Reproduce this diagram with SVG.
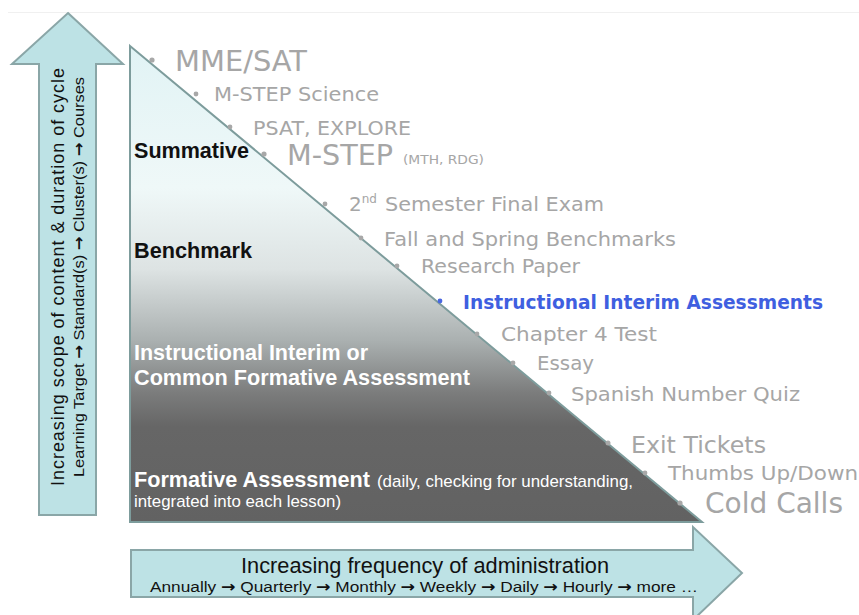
<svg xmlns="http://www.w3.org/2000/svg" width="859" height="615" viewBox="0 0 859 615">
<defs>
<linearGradient id="tri" x1="0" y1="45" x2="0" y2="522" gradientUnits="userSpaceOnUse">
<stop offset="0" stop-color="#e1f3f5"/>
<stop offset="0.3" stop-color="#eff8f8"/>
<stop offset="0.47" stop-color="#dde3e3"/>
<stop offset="0.62" stop-color="#aab0b0"/>
<stop offset="0.73" stop-color="#7b7c7c"/>
<stop offset="0.8" stop-color="#666666"/>
<stop offset="1" stop-color="#626262"/>
</linearGradient>
<style>
.arr{fill:#bde2e5;stroke:#8aa6a7;stroke-width:2}
.lbl{font-family:"Liberation Sans",Arial,sans-serif;font-weight:bold;font-size:21.5px}
.blk{fill:#111}
.wht{fill:#ffffff}
.small{font-family:"Liberation Sans",Arial,sans-serif;font-size:17px;fill:#ffffff}
.item{font-family:"DejaVu Sans",Verdana,sans-serif;fill:#a6a6a6}
.dot{fill:#a8a8a8}
.ax{font-family:"Liberation Sans",Arial,sans-serif;fill:#111}
.ar{font-family:"DejaVu Sans",sans-serif;font-weight:bold}
</style>
</defs>
<rect width="859" height="615" fill="#ffffff"/>
<line x1="8" y1="12.5" x2="859" y2="12.5" stroke="#f0f0f0" stroke-width="1"/>

<g id="scope-arrow">
<polygon class="arr" points="68,13 123,64 96,64 96,515 39,515 39,64 12,64"/>
<text class="ax" font-size="18" transform="translate(64,486) rotate(-90)" textLength="418" lengthAdjust="spacing">Increasing scope of content &amp; duration of cycle</text>
<text class="ax" font-size="15.5" transform="translate(84,477) rotate(-90)" textLength="400" lengthAdjust="spacingAndGlyphs">Learning Target <tspan class="ar">→</tspan> Standard(s) <tspan class="ar">→</tspan> Cluster(s) <tspan class="ar">→</tspan> Courses</text>
</g>

<g id="pyramid">
<polygon points="130,46 702,522 130,522" fill="url(#tri)" stroke="#7d9c9c" stroke-width="2"/>
<text class="lbl blk" x="134" y="158" textLength="115" lengthAdjust="spacingAndGlyphs">Summative</text>
<text class="lbl blk" x="134" y="258" textLength="118" lengthAdjust="spacingAndGlyphs">Benchmark</text>
<text class="lbl wht" x="134" y="360" textLength="234" lengthAdjust="spacingAndGlyphs">Instructional Interim or</text>
<text class="lbl wht" x="134" y="385" textLength="336" lengthAdjust="spacingAndGlyphs">Common Formative Assessment</text>
<text class="lbl wht" x="134" y="487" textLength="236" lengthAdjust="spacingAndGlyphs">Formative Assessment</text>
<text class="small" x="377" y="487" textLength="256" lengthAdjust="spacingAndGlyphs">(daily, checking for understanding,</text>
<text class="small" x="134" y="507" textLength="207" lengthAdjust="spacingAndGlyphs">integrated into each lesson)</text>
</g>

<g id="examples">
<circle class="dot" cx="152" cy="60" r="2.6"/>
<text class="item" x="175" y="71" font-size="28" textLength="132" lengthAdjust="spacingAndGlyphs">MME/SAT</text>
<circle class="dot" cx="196" cy="94" r="2.4"/>
<text class="item" x="214" y="101" font-size="20" textLength="165" lengthAdjust="spacingAndGlyphs">M-STEP Science</text>
<circle class="dot" cx="230" cy="127" r="2.4"/>
<text class="item" x="253" y="135" font-size="20" textLength="158" lengthAdjust="spacingAndGlyphs">PSAT, EXPLORE</text>
<circle class="dot" cx="264" cy="154" r="2.6"/>
<text class="item" x="287" y="165" font-size="28" textLength="106" lengthAdjust="spacingAndGlyphs">M-STEP</text>
<text class="item" x="403" y="164" font-size="12" textLength="81" lengthAdjust="spacingAndGlyphs">(MTH, RDG)</text>
<circle class="dot" cx="325" cy="204" r="2.4"/>
<text class="item" x="349" y="211" font-size="20">2<tspan font-size="12" dy="-8">nd</tspan></text>
<text class="item" x="385" y="211" font-size="20" textLength="219" lengthAdjust="spacingAndGlyphs">Semester Final Exam</text>
<circle class="dot" cx="361" cy="238" r="2.4"/>
<text class="item" x="384" y="246" font-size="20" textLength="292" lengthAdjust="spacingAndGlyphs">Fall and Spring Benchmarks</text>
<circle class="dot" cx="397" cy="266" r="2.4"/>
<text class="item" x="421" y="273" font-size="20" textLength="159" lengthAdjust="spacingAndGlyphs">Research Paper</text>
<circle cx="440" cy="301" r="2.4" fill="#4a67e0"/>
<text x="463" y="309" font-family="DejaVu Sans,Verdana,sans-serif" font-weight="bold" font-size="20" fill="#3f5fe0" textLength="360" lengthAdjust="spacingAndGlyphs">Instructional Interim Assessments</text>
<circle class="dot" cx="477" cy="334" r="2.4"/>
<text class="item" x="501" y="341" font-size="20" textLength="156" lengthAdjust="spacingAndGlyphs">Chapter 4 Test</text>
<circle class="dot" cx="513" cy="363" r="2.4"/>
<text class="item" x="537" y="370" font-size="20" textLength="57" lengthAdjust="spacingAndGlyphs">Essay</text>
<circle class="dot" cx="549" cy="393" r="2.4"/>
<text class="item" x="571" y="401" font-size="20" textLength="229" lengthAdjust="spacingAndGlyphs">Spanish Number Quiz</text>
<circle class="dot" cx="608" cy="443" r="2.5"/>
<text class="item" x="631" y="453" font-size="23" textLength="135" lengthAdjust="spacingAndGlyphs">Exit Tickets</text>
<circle class="dot" cx="645" cy="473" r="2.4"/>
<text class="item" x="668" y="480" font-size="20" textLength="190" lengthAdjust="spacingAndGlyphs">Thumbs Up/Down</text>
<circle class="dot" cx="680" cy="503" r="2.6"/>
<text class="item" x="705" y="513" font-size="28" textLength="138" lengthAdjust="spacingAndGlyphs">Cold Calls</text>
</g>

<g id="frequency-arrow">
<polygon class="arr" points="131,550 693,550 693,527 742,573 693,620 693,597 131,597"/>
<text class="ax" x="425" y="573" font-size="21.5" text-anchor="middle" textLength="368" lengthAdjust="spacingAndGlyphs">Increasing frequency of administration</text>
<text class="ax" x="150" y="592" font-size="15.5" textLength="548" lengthAdjust="spacingAndGlyphs">Annually <tspan class="ar">→</tspan> Quarterly <tspan class="ar">→</tspan> Monthly <tspan class="ar">→</tspan> Weekly <tspan class="ar">→</tspan> Daily <tspan class="ar">→</tspan> Hourly <tspan class="ar">→</tspan> more …</text>
</g>
</svg>
